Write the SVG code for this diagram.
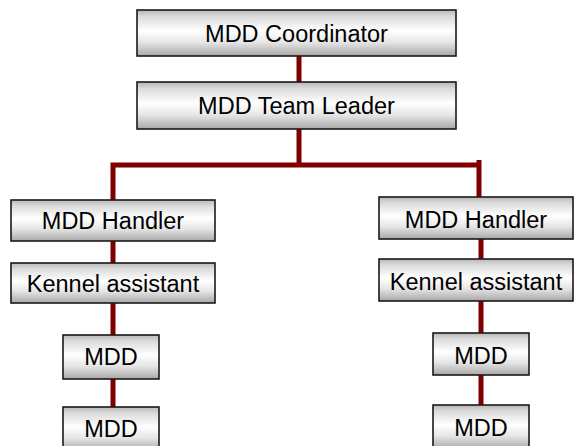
<svg xmlns="http://www.w3.org/2000/svg" width="575" height="446" viewBox="0 0 575 446">
<defs>
<linearGradient id="g" x1="0" y1="0" x2="0" y2="1">
<stop offset="0" stop-color="#b8b8b8"/>
<stop offset="0.15" stop-color="#dcdcdc"/>
<stop offset="0.45" stop-color="#ffffff"/>
<stop offset="0.7" stop-color="#e6e6e6"/>
<stop offset="1" stop-color="#a8a8a8"/>
</linearGradient>
</defs>
<style>
.b{fill:url(#g);stroke:#1a1a1a;stroke-width:1.6}
.t{font-family:"Liberation Sans",Arial,sans-serif;font-size:23.5px;fill:#000;text-anchor:middle}
.c{stroke:#800000;stroke-width:5;fill:none}
</style>
<rect width="575" height="446" fill="#fff"/>
<g id="connectors">
<line class="c" x1="299" y1="56" x2="299" y2="82"/>
<line class="c" x1="299" y1="129" x2="299" y2="165"/>
<polyline class="c" points="113,200 113,165 479,165"/>
<line class="c" x1="479" y1="160" x2="479" y2="197"/>
<line class="c" x1="113" y1="241" x2="113" y2="263"/>
<line class="c" x1="113" y1="303" x2="113" y2="335"/>
<line class="c" x1="113" y1="379" x2="113" y2="407"/>
<line class="c" x1="481" y1="239" x2="481" y2="259"/>
<line class="c" x1="481" y1="301" x2="481" y2="333"/>
<line class="c" x1="481" y1="375" x2="481" y2="405"/>
</g>
<g id="coordinator"><rect class="b" x="137" y="10" width="319" height="46"/><text class="t" x="296.5" y="42">MDD Coordinator</text></g>
<g id="teamleader"><rect class="b" x="137" y="82" width="319" height="47"/><text class="t" x="296.5" y="114">MDD Team Leader</text></g>
<g id="handler1"><rect class="b" x="11" y="200" width="204" height="41"/><text class="t" x="113" y="229">MDD Handler</text></g>
<g id="kennel1"><rect class="b" x="11" y="263" width="204" height="40"/><text class="t" x="113" y="292">Kennel assistant</text></g>
<g id="mdd1a"><rect class="b" x="63" y="335" width="96" height="44"/><text class="t" x="111" y="365">MDD</text></g>
<g id="mdd1b"><rect class="b" x="63" y="407" width="96" height="44"/><text class="t" x="111" y="437">MDD</text></g>
<g id="handler2"><rect class="b" x="379" y="197" width="194" height="42"/><text class="t" x="476" y="228">MDD Handler</text></g>
<g id="kennel2"><rect class="b" x="379" y="259" width="194" height="42"/><text class="t" x="476" y="290">Kennel assistant</text></g>
<g id="mdd2a"><rect class="b" x="433" y="333" width="96" height="42"/><text class="t" x="481" y="364">MDD</text></g>
<g id="mdd2b"><rect class="b" x="433" y="405" width="96" height="44"/><text class="t" x="481" y="436">MDD</text></g>
</svg>
